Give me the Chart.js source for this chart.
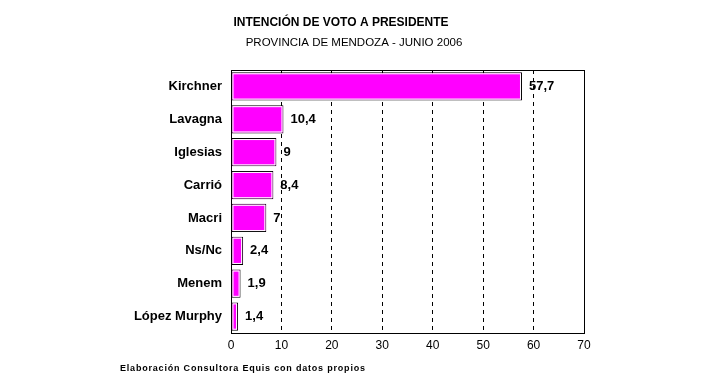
<!DOCTYPE html>
<html>
<head>
<meta charset="utf-8">
<script src="https://cdn.jsdelivr.net/npm/chart.js@4/dist/chart.umd.min.js"></script>
<style>
  html, body { margin: 0; padding: 0; background: #fff; }
  #wrap { width: 723px; height: 387px; position: relative; }
</style>
</head>
<body>
<div id="wrap"><canvas id="votoChart" width="723" height="387"></canvas></div>
<script>
const candidatos = ["Kirchner", "Lavagna", "Iglesias", "Carrió", "Macri", "Ns/Nc", "Menem", "López Murphy"];
const porcentajes = [57.7, 10.4, 9, 8.4, 7, 2.4, 1.9, 1.4];
const xTicks = [0, 10, 20, 30, 40, 50, 60, 70];

const tituloTexto = "INTENCIÓN DE VOTO A PRESIDENTE";
const subtituloTexto = "PROVINCIA DE MENDOZA - JUNIO 2006";
const fuenteTexto = "Elaboración Consultora Equis con datos propios";

// frame, titles, value labels and source note
const decoPlugin = {
  id: "deco",
  afterDatasetsDraw(chart) {
    const ctx = chart.ctx;
    const area = chart.chartArea;
    ctx.save();
    ctx.strokeStyle = "#000";
    ctx.lineWidth = 1;
    ctx.strokeRect(Math.round(area.left) + 0.5, Math.round(area.top) + 0.5,
      Math.round(area.right - area.left), Math.round(area.bottom - area.top));

    const meta = chart.getDatasetMeta(0);
    // thin white inner edge on each bar, like the original
    ctx.strokeStyle = "#fff";
    meta.data.forEach((bar) => {
      const h = bar.height;
      const x0 = Math.min(bar.base, bar.x) + 1.5;
      const w = Math.abs(bar.x - bar.base) - 3;
      if (w > 1) ctx.strokeRect(x0, bar.y - h / 2 + 1.5, w, h - 3);
    });

    ctx.fillStyle = "#000";
    ctx.font = "bold 13px 'Liberation Sans', Arial, sans-serif";
    ctx.textAlign = "left";
    ctx.textBaseline = "middle";
    meta.data.forEach((bar, i) => {
      const label = String(porcentajes[i]).replace(".", ",");
      ctx.fillText(label, bar.x + 7, bar.y);
    });

    ctx.textAlign = "center";
    ctx.font = "bold 12px 'Liberation Sans', Arial, sans-serif";
    ctx.fillText(tituloTexto, 341, 23);
    ctx.font = "11.5px 'Liberation Sans', Arial, sans-serif";
    ctx.fillText(subtituloTexto, 354, 43);

    ctx.textAlign = "left";
    ctx.font = "bold 9px 'Liberation Sans', Arial, sans-serif";
    if ("letterSpacing" in ctx) ctx.letterSpacing = "0.8px";
    ctx.fillText(fuenteTexto, 120, 369);
    ctx.restore();
  }
};

new Chart(document.getElementById("votoChart").getContext("2d"), {
  type: "bar",
  data: {
    labels: candidatos,
    datasets: [{
      data: porcentajes,
      backgroundColor: "#FF00FF",
      borderColor: "#000",
      borderWidth: 1,
      borderSkipped: false,
      categoryPercentage: 0.86,
      barPercentage: 1.0
    }]
  },
  options: {
    indexAxis: "y",
    responsive: false,
    animation: false,
    layout: { padding: { top: 70, right: 139, left: 0, bottom: 0 } },
    plugins: {
      legend: { display: false },
      tooltip: { enabled: false }
    },
    scales: {
      x: {
        min: 0,
        max: 70,
        afterBuildTicks: (axis) => { axis.ticks = xTicks.map((v) => ({ value: v })); },
        afterFit: (axis) => { axis.height = 387 - 333; },
        grid: {
          color: (c) => (c.tick && (c.tick.value === 0 || c.tick.value === 70)) ? "rgba(0,0,0,0)" : "#000",
          lineWidth: 1,
          drawTicks: false
        },
        border: { display: false, dash: [4, 4] },
        ticks: {
          color: "#000",
          padding: 5,
          font: { family: "'Liberation Sans', Arial, sans-serif", size: 12 }
        }
      },
      y: {
        afterFit: (axis) => { axis.width = 231; },
        border: { display: false },
        grid: { display: false, drawTicks: false },
        ticks: {
          color: "#000",
          padding: 9,
          font: { family: "'Liberation Sans', Arial, sans-serif", size: 13, weight: "bold" }
        }
      }
    }
  },
  plugins: [decoPlugin]
});
</script>
</body>
</html>
